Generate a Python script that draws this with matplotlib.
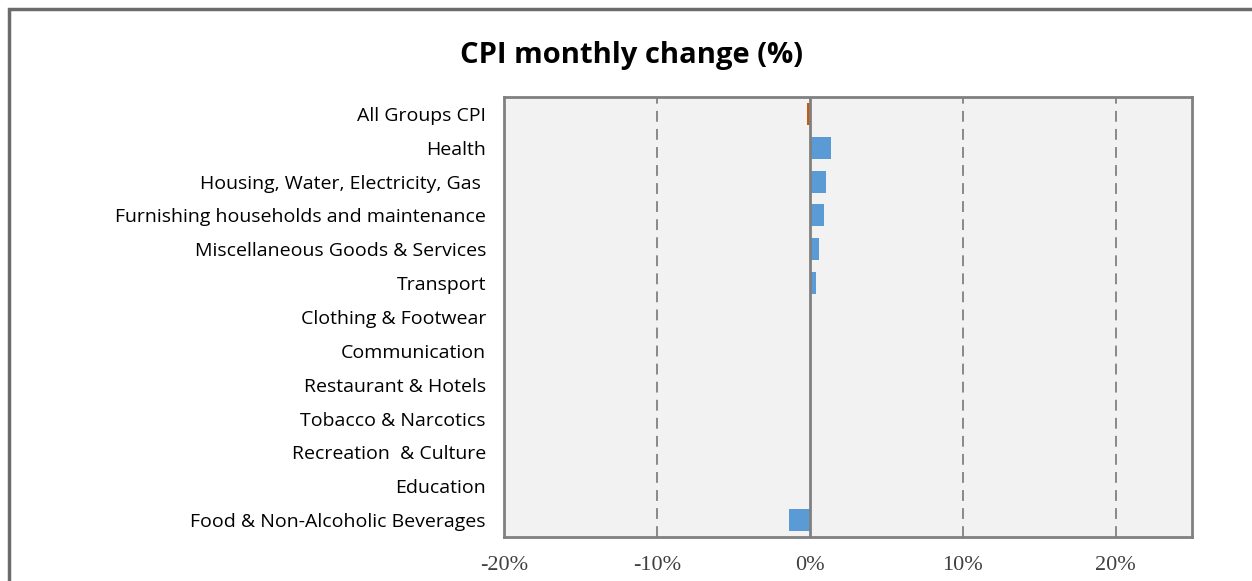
import matplotlib
matplotlib.use("Agg")
import matplotlib.pyplot as plt
from matplotlib.patches import Rectangle
from matplotlib.ticker import FuncFormatter

# data (top to bottom)
categories = ["All Groups CPI", "Health", "Housing, Water, Electricity, Gas ",
              "Furnishing households and maintenance", "Miscellaneous Goods & Services",
              "Transport", "Clothing & Footwear", "Communication", "Restaurant & Hotels",
              "Tobacco & Narcotics", "Recreation  & Culture", "Education",
              "Food & Non-Alcoholic Beverages"]
values = [-0.2, 1.4, 1.05, 0.9, 0.6, 0.4, 0.0, 0.0, 0.0, 0.0, 0.0, 0.0, -1.35]
colors = ["#c55a11"] + ["#5b9bd5"] * 12
x_ticks = [-20, -10, 0, 10, 20]

fig = plt.figure(figsize=(12.52, 5.81), dpi=100)
ax = fig.add_axes([504 / 1252, 1 - 537 / 581, (1192 - 504) / 1252, (537 - 97) / 581])
ax.set_facecolor("#f2f2f2")

y = list(range(len(categories)))
ax.barh(y, values, height=0.65, color=colors, zorder=3)
ax.set_ylim(len(categories) - 0.5, -0.5)
ax.set_xlim(-20, 25)

# gridlines
for t in x_ticks:
    if t == 0:
        ax.axvline(0, color="#808080", lw=2, zorder=4)
    elif t != -20:
        ax.axvline(t, color="#808080", lw=1.3, ls=(0, (6, 4)), zorder=1)

ax.set_yticks(y)
ax.set_yticklabels(categories, fontfamily="Open Sans", fontsize=14)
ax.set_xticks(x_ticks)
ax.xaxis.set_major_formatter(FuncFormatter(lambda v, p: "%d%%" % v))
for lab in ax.get_xticklabels():
    lab.set_fontfamily("Liberation Serif")
    lab.set_fontsize(16)
    lab.set_color("#404040")
ax.tick_params(axis="y", length=0, pad=13)
ax.tick_params(axis="x", length=0, pad=14)
for s in ax.spines.values():
    s.set_color("#808080")
    s.set_linewidth(2)

fig.text(632 / 1252, 1 - 55 / 581, "CPI monthly change (%)", ha="center", va="center",
         fontfamily="Open Sans", fontweight="bold", fontsize=21)

# outer chart frame
fig.patches.append(Rectangle((9 / 1252, -0.1), 1.2, 1 - 9 / 581 + 0.1, transform=fig.transFigure,
                             fill=False, edgecolor="#6b6b6b", lw=2.5))

fig.savefig("out.png", dpi=100)
